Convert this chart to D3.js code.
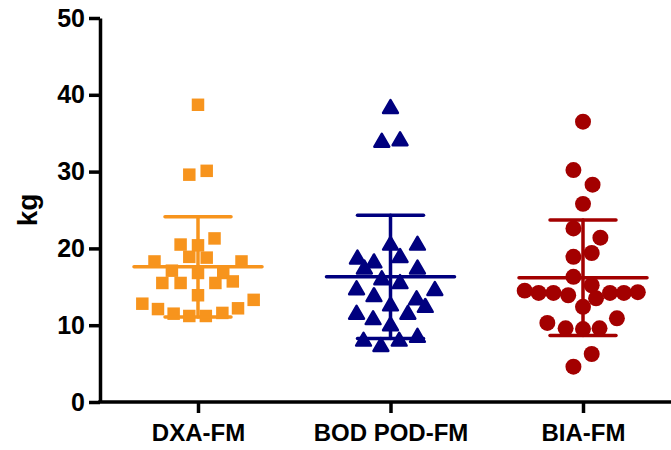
<!DOCTYPE html><html>
<head>
    <meta charset="utf-8">
    <style>
        body { margin: 0; background: #fff; }
        text { font-family: "Liberation Sans", Arial, sans-serif; font-weight: bold; }
    </style>
</head>
<body>
    <script src="https://d3js.org/d3.v7.min.js"></script>
    <script>
        // group labels and colours
        var groups = ['DXA-FM', 'BOD POD-FM', 'BIA-FM'];
        var colors = ['#f7941d', '#00007f', '#a30000'];
        var yTicks = [0, 10, 20, 30, 40, 50];

        // fat mass (kg), with the horizontal slot of each point
        var dxaValues = [38.7, 29.6, 30.1, 21.3, 20.5, 20.4, 18.9, 18.8, 18.3, 18.3, 17.1, 16.8, 16.8,
                         15.5, 15.5, 15.5, 15.7, 13.9, 12.8, 13.3, 12.1, 12.2, 11.5, 11.2, 11.2, 11.6];
        var dxaSlots  = [0, -1, 1, 1.9, -2, 0, -1, 1, -5, 5, -3, 0, 2.9,
                         -4.1, -2, 2, 4, 0, -6.4, 6.4, -4.6, 4.6, -2.8, -1, 0.9, 2.8];

        var bodValues = [38.2, 33.8, 34.0, 20.4, 20.4, 18.8, 18.6, 18.1, 17.3, 17.3, 15.9, 15.4, 14.6,
                         14.5, 13.7, 13.3, 12.5, 12.3, 11.4, 11.4, 10.7, 9.9, 7.9, 7.2, 7.9, 8.4];
        var bodSlots  = [0, -1, 1.1, 0, 3.1, 1.1, -3.8, -1.9, -3, 3.1, -1, 1.1, -3.9,
                         5.1, -1.9, 3, 0, 4, -3.9, 2, -2, 0, -3.1, -1.1, 1, 3.1];

        var biaValues = [36.5, 30.2, 28.3, 25.8, 22.6, 21.4, 18.9, 19.4, 16.3, 15.2, 14.5, 14.2, 14.2,
                         13.9, 13.5, 14.2, 14.2, 14.3, 12.4, 10.3, 10.9, 9.6, 9.5, 9.6, 6.25, 4.6];
        var biaSlots  = [0, -1.1, 1.1, 0, -1.1, 2, -1.1, 1, -1.1, 1, -6.7, -5.1, -3.4,
                         -1.7, 1.5, 3.1, 4.7, 6.3, 0, -4.1, 3.9, -2, 0, 1.9, 1, -1.1];

        var allValues = [dxaValues, bodValues, biaValues];
        var allSlots = [dxaSlots, bodSlots, biaSlots];

        var width = 671, height = 450;
        var slotPx = 8.7;

        var svg = d3.select('body').append('svg')
            .attr('width', width)
            .attr('height', height);

        var y = d3.scaleLinear().domain([0, 50]).range([402, 18]);
        var x = d3.scalePoint().domain(groups).range([198, 583]);
        var x0 = 100;

        // y axis
        var yAxis = svg.append('g')
            .attr('transform', 'translate(' + x0 + ',0)')
            .call(d3.axisLeft(y).tickValues(yTicks).tickSize(11).tickSizeOuter(0).tickPadding(4));
        yAxis.selectAll('path, line').attr('stroke', '#000').attr('stroke-width', 3.5);
        yAxis.selectAll('text').attr('font-size', 25).attr('fill', '#000')
            .attr('font-family', '"Liberation Sans", Arial, sans-serif').attr('font-weight', 'bold');

        // x axis: line runs to the edge of the picture
        var xAxis = svg.append('g')
            .attr('transform', 'translate(0,' + y(0) + ')')
            .call(d3.axisBottom(x).tickSize(11).tickPadding(11));
        xAxis.select('.domain').remove();
        xAxis.selectAll('line').attr('stroke', '#000').attr('stroke-width', 3.5);
        xAxis.selectAll('text').attr('font-size', 24).attr('fill', '#000')
            .attr('font-family', '"Liberation Sans", Arial, sans-serif').attr('font-weight', 'bold');
        svg.append('line')
            .attr('x1', x0 - 1.75).attr('x2', width)
            .attr('y1', y(0)).attr('y2', y(0))
            .attr('stroke', '#000').attr('stroke-width', 3.5);

        svg.append('text')
            .attr('transform', 'translate(37,' + y(25) + ') rotate(-90)')
            .attr('text-anchor', 'middle')
            .attr('font-size', 28)
            .text('kg');

        var shapes = [d3.symbolSquare, d3.symbolTriangle, d3.symbolCircle];
        var sizes = [156, 95, 200];

        groups.forEach(function (g, i) {
            var vals = allValues[i];
            var cx = x(g);
            var pts = vals.map(function (v, j) { return { v: v, s: allSlots[i][j] }; });

            svg.append('g').selectAll('path')
                .data(pts)
                .enter().append('path')
                .attr('d', d3.symbol().type(shapes[i]).size(sizes[i]))
                .attr('transform', function (d) {
                    return 'translate(' + (cx + d.s * slotPx) + ',' + y(d.v) + ')';
                })
                .attr('fill', colors[i])
                .attr('stroke', colors[i])
                .attr('stroke-width', i == 1 ? 2.5 : 0)
                .attr('stroke-linejoin', 'round');

            // mean and SD bars
            var m = d3.mean(vals), sd = d3.deviation(vals);
            var bars = svg.append('g')
                .attr('stroke', colors[i])
                .attr('stroke-width', 3.5)
                .attr('stroke-linecap', 'round');
            bars.append('line').attr('x1', cx).attr('x2', cx).attr('y1', y(m + sd)).attr('y2', y(m - sd));
            bars.append('line').attr('x1', cx - 64).attr('x2', cx + 64).attr('y1', y(m)).attr('y2', y(m));
            bars.append('line').attr('x1', cx - 33).attr('x2', cx + 33).attr('y1', y(m + sd)).attr('y2', y(m + sd));
            bars.append('line').attr('x1', cx - 33).attr('x2', cx + 33).attr('y1', y(m - sd)).attr('y2', y(m - sd));
        });
    </script>
</body></html>
